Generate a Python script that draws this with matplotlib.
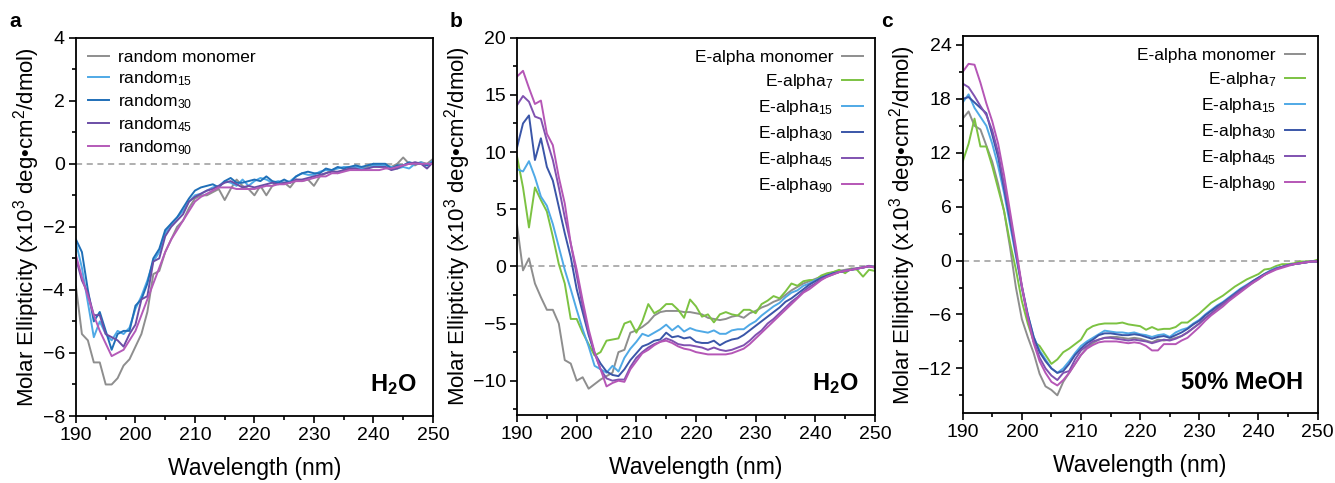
#!/usr/bin/env python
'''CD spectra of random and E-alpha series, three panels'''

import numpy as np
import matplotlib
matplotlib.use("Agg")
from matplotlib import pyplot as plt
from matplotlib.ticker import MultipleLocator

plt.rcParams['font.family'] = ['Liberation Sans', 'DejaVu Sans']
plt.rcParams['mathtext.fontset'] = 'custom'
plt.rcParams['mathtext.rm'] = 'Liberation Sans'
plt.rcParams['mathtext.bf'] = 'Liberation Sans:bold'
plt.rcParams['mathtext.default'] = 'regular'

wavelength = np.arange(190, 251)

# panel a, H2O (x10^3 deg cm2/dmol)
random_monomer = [-3.9, -5.4, -5.6, -6.3, -6.3, -7.0, -7.0, -6.8, -6.4, -6.2, -5.8, -5.4, -4.7, -3.5, -3.4,
                  -2.8, -2.4, -2.0, -1.8, -1.4, -1.1, -1.0, -1.0, -0.9, -0.8, -1.15, -0.8, -0.5, -0.7, -0.8,
                  -1.0, -0.7, -1.0, -0.7, -0.6, -0.6, -0.75, -0.5, -0.55, -0.5, -0.7, -0.4, -0.3, -0.2, -0.3,
                  -0.2, -0.2, -0.1, -0.15, -0.1, 0.0, -0.1, -0.05, -0.1, 0.0, 0.2, 0.0, -0.05, 0.05, 0.0, 0.15]
random_15 = [-2.5, -3.3, -4.4, -5.5, -5.0, -5.4, -5.6, -5.3, -5.4, -5.2, -4.6, -4.2, -3.7, -3.1, -2.8,
             -2.2, -1.9, -1.7, -1.5, -1.2, -1.0, -0.95, -0.85, -0.75, -0.7, -0.55, -0.6, -0.7, -0.5, -0.7,
             -0.55, -0.45, -0.5, -0.6, -0.55, -0.6, -0.55, -0.4, -0.3, -0.35, -0.35, -0.25, -0.2, -0.2, -0.15,
             -0.1, -0.1, -0.1, -0.15, -0.15, -0.05, -0.05, -0.05, -0.1, -0.15, -0.1, -0.15, 0.0, 0.05, -0.05, 0.1]
random_30 = [-2.4, -2.8, -4.0, -5.0, -4.7, -5.3, -5.9, -5.4, -5.3, -5.3, -4.5, -4.3, -3.8, -3.0, -2.7,
             -2.1, -1.9, -1.7, -1.4, -1.1, -0.85, -0.75, -0.7, -0.65, -0.75, -0.55, -0.45, -0.6, -0.6, -0.55,
             -0.5, -0.55, -0.4, -0.55, -0.6, -0.5, -0.6, -0.4, -0.3, -0.25, -0.3, -0.3, -0.15, -0.2, -0.1,
             -0.15, -0.1, -0.05, -0.1, -0.05, 0.0, 0.0, 0.0, -0.15, -0.05, -0.05, 0.05, 0.0, 0.0, -0.05, 0.05]
random_45 = [-3.0, -3.7, -4.1, -4.8, -4.8, -5.4, -5.5, -5.6, -5.8, -5.4, -5.1, -4.3, -4.2, -3.1, -3.0,
             -2.3, -2.0, -1.8, -1.6, -1.2, -1.05, -0.95, -0.85, -0.8, -0.7, -0.6, -0.55, -0.65, -0.75, -0.7,
             -0.75, -0.7, -0.65, -0.6, -0.65, -0.6, -0.6, -0.5, -0.5, -0.45, -0.4, -0.35, -0.3, -0.25, -0.25,
             -0.2, -0.15, -0.15, -0.2, -0.15, -0.1, -0.1, -0.1, -0.2, -0.15, -0.05, 0.0, 0.05, 0.0, -0.15, 0.05]
random_90 = [-2.9, -3.6, -4.2, -4.8, -5.3, -5.7, -6.1, -6.0, -5.9, -5.6, -5.3, -4.8, -4.3, -3.8, -3.3,
             -2.8, -2.4, -2.1, -1.8, -1.5, -1.2, -1.05, -0.95, -0.85, -0.75, -0.75, -0.75, -0.8, -0.8, -0.8,
             -0.8, -0.75, -0.7, -0.7, -0.65, -0.65, -0.6, -0.55, -0.55, -0.5, -0.45, -0.4, -0.4, -0.3, -0.3,
             -0.25, -0.2, -0.2, -0.2, -0.2, -0.2, -0.2, -0.15, -0.15, -0.1, -0.05, 0.0, 0.0, 0.0, 0.0, 0.0]

# panel b, H2O
b_monomer = [3.6, -0.35, 0.7, -1.5, -2.7, -3.8, -3.8, -5.0, -8.2, -8.5, -10.0, -9.7, -10.7, -10.3, -9.9,
             -9.6, -9.3, -7.5, -7.3, -5.8, -5.6, -5.3, -4.9, -4.3, -4.0, -3.9, -3.9, -3.9, -4.0, -4.0,
             -4.1, -4.2, -4.5, -4.6, -4.7, -4.6, -4.4, -4.3, -4.5, -4.1, -3.9, -3.6, -3.4, -3.1, -2.9,
             -2.5, -2.1, -1.8, -1.5, -1.3, -1.1, -0.9, -0.7, -0.5, -0.4, -0.3, -0.2, -0.15, -0.1, 0.0, 0.0]
b_alpha7 = [9.6, 6.9, 3.4, 6.9, 5.8, 4.8, 2.6, 0.2, -1.5, -4.6, -4.6, -5.8, -6.8, -7.8, -7.5,
            -6.5, -6.4, -6.3, -5.0, -4.8, -5.8, -4.8, -3.3, -4.1, -3.8, -3.3, -3.3, -3.8, -4.5, -2.9,
            -3.5, -4.4, -4.2, -4.9, -4.2, -4.0, -4.2, -4.3, -3.8, -3.8, -4.1, -3.3, -3.0, -2.6, -2.8,
            -2.2, -1.5, -1.7, -1.3, -1.2, -1.2, -0.8, -0.6, -0.5, -0.3, -0.6, -0.2, -0.3, -0.9, -0.3, -0.4]
b_alpha15 = [8.5, 8.3, 9.2, 7.8, 6.1, 5.3, 3.7, 1.7, -0.3, -2.0, -3.8, -5.5, -7.0, -8.7, -9.0,
             -9.3, -8.7, -9.2, -8.0, -7.2, -6.6, -5.9, -6.1, -5.8, -5.5, -5.1, -5.6, -5.2, -5.7, -5.4,
             -5.6, -5.7, -5.8, -5.6, -5.9, -5.9, -5.6, -5.5, -5.5, -5.1, -4.8, -4.3, -3.9, -3.5, -3.2,
             -2.7, -2.3, -2.1, -1.7, -1.5, -1.2, -1.0, -0.8, -0.6, -0.5, -0.4, -0.3, -0.2, -0.1, 0.0, -0.05]
b_alpha30 = [10.4, 12.5, 13.2, 9.3, 11.2, 8.7, 7.5, 5.2, 2.9, 0.8, -2.0, -4.0, -6.0, -7.6, -8.5,
             -9.2, -9.5, -9.6, -9.0, -8.2, -7.6, -7.0, -6.8, -6.5, -6.4, -5.8, -6.2, -6.1, -6.3, -6.2,
             -6.6, -6.7, -6.7, -6.5, -6.9, -6.6, -6.4, -6.3, -6.0, -5.6, -5.2, -4.8, -4.4, -4.0, -3.6,
             -3.1, -2.8, -2.4, -2.0, -1.6, -1.3, -1.0, -0.8, -0.6, -0.5, -0.4, -0.3, -0.2, -0.1, 0.0, -0.1]
b_alpha45 = [14.1, 14.9, 14.4, 13.1, 12.9, 11.0, 9.3, 6.9, 4.3, 2.0, -0.8, -3.5, -5.8, -7.6, -9.0,
             -9.8, -10.0, -9.9, -9.9, -8.8, -8.0, -7.5, -7.1, -6.8, -6.6, -6.3, -6.5, -6.8, -6.9, -6.9,
             -7.0, -7.1, -7.3, -7.1, -7.3, -7.4, -7.3, -7.1, -6.9, -6.5, -6.0, -5.6, -5.0, -4.6, -4.1,
             -3.6, -3.1, -2.7, -2.2, -1.8, -1.5, -1.1, -0.9, -0.7, -0.5, -0.4, -0.3, -0.2, -0.1, 0.05, -0.1]
b_alpha90 = [16.6, 17.1, 15.6, 14.2, 14.5, 11.6, 10.6, 7.8, 5.5, 2.0, -0.3, -3.0, -5.5, -7.5, -9.0,
             -10.5, -10.2, -10.0, -10.1, -9.0, -8.3, -7.6, -7.3, -6.9, -6.6, -6.5, -6.7, -7.0, -7.2, -7.3,
             -7.5, -7.6, -7.7, -7.7, -7.7, -7.7, -7.6, -7.4, -7.2, -6.8, -6.3, -5.8, -5.3, -4.8, -4.3,
             -3.8, -3.3, -2.8, -2.3, -2.0, -1.6, -1.2, -0.9, -0.7, -0.5, -0.4, -0.3, -0.2, -0.1, 0.0, -0.1]

# panel c, 50% MeOH
c_monomer = [15.8, 16.6, 15.0, 14.6, 12.8, 11.0, 8.5, 5.5, 1.5, -3.0, -6.5, -8.5, -10.3, -12.6, -14.0,
             -14.4, -15.0, -13.5, -12.5, -11.5, -10.5, -9.7, -9.2, -8.8, -8.6, -8.5, -8.5, -8.6, -8.7, -8.6,
             -8.7, -8.9, -9.1, -8.8, -8.9, -8.8, -8.6, -8.4, -8.0, -7.5, -7.0, -6.4, -5.9, -5.4, -4.9,
             -4.4, -3.9, -3.4, -2.9, -2.5, -2.0, -1.6, -1.2, -0.9, -0.7, -0.5, -0.4, -0.3, -0.2, -0.1, -0.1]
c_alpha7 = [11.0, 13.0, 15.8, 12.7, 12.7, 10.5, 8.0, 5.5, 2.0, -1.0, -4.5, -7.0, -9.0, -9.5, -10.5,
            -11.5, -11.0, -10.2, -9.8, -9.3, -8.8, -7.7, -7.3, -7.1, -7.0, -7.0, -7.0, -6.9, -7.1, -7.2,
            -7.3, -7.7, -7.4, -7.7, -7.6, -7.6, -7.4, -6.9, -6.9, -6.4, -5.9, -5.3, -4.7, -4.3, -3.9,
            -3.4, -2.9, -2.5, -2.1, -1.8, -1.5, -1.0, -0.9, -0.6, -0.4, -0.4, -0.3, -0.1, -0.1, -0.1, 0.1]
c_alpha15 = [17.6, 18.5, 17.0, 16.0, 15.0, 13.0, 10.5, 7.5, 4.0, 0.5, -3.0, -6.0, -8.5, -10.0, -11.0,
             -12.0, -12.5, -12.0, -11.2, -10.3, -9.5, -9.0, -8.6, -8.2, -7.8, -7.9, -8.0, -8.0, -8.1, -8.0,
             -8.2, -8.3, -8.5, -8.3, -8.2, -8.5, -8.0, -7.7, -7.5, -7.0, -6.6, -6.0, -5.5, -5.0, -4.6,
             -4.1, -3.6, -3.1, -2.7, -2.3, -1.9, -1.5, -1.1, -0.8, -0.7, -0.5, -0.4, -0.3, -0.2, -0.1, -0.1]
c_alpha30 = [18.0, 18.2, 17.6, 17.0, 16.4, 14.0, 11.5, 8.0, 4.5, 0.8, -2.8, -6.0, -8.5, -10.2, -11.2,
             -12.0, -12.5, -12.3, -11.5, -10.5, -9.8, -9.2, -8.8, -8.3, -8.1, -8.1, -8.2, -8.3, -8.3, -8.2,
             -8.3, -8.5, -8.7, -8.5, -8.4, -8.6, -8.3, -8.0, -7.6, -7.1, -6.7, -6.1, -5.6, -5.1, -4.7,
             -4.2, -3.7, -3.2, -2.8, -2.3, -1.9, -1.5, -1.2, -0.9, -0.7, -0.5, -0.4, -0.3, -0.2, -0.1, -0.1]
c_alpha45 = [19.7, 19.3, 18.3, 17.2, 16.2, 14.5, 12.0, 8.5, 5.0, 1.0, -3.0, -6.3, -9.0, -10.8, -12.0,
             -12.8, -13.3, -12.5, -12.3, -11.0, -10.0, -9.5, -9.0, -8.8, -8.6, -8.6, -8.7, -8.8, -8.9, -8.8,
             -8.9, -9.0, -9.2, -9.0, -8.8, -8.9, -8.7, -8.4, -8.0, -7.5, -7.0, -6.4, -5.9, -5.3, -4.8,
             -4.3, -3.8, -3.3, -2.8, -2.4, -2.0, -1.6, -1.2, -0.9, -0.7, -0.5, -0.4, -0.3, -0.2, -0.1, -0.1]
c_alpha90 = [21.0, 21.9, 21.8, 19.8, 17.5, 15.5, 13.0, 9.5, 5.5, 1.5, -2.8, -6.3, -9.2, -11.2, -12.5,
             -13.5, -13.9, -13.3, -12.5, -11.5, -10.5, -9.8, -9.4, -9.1, -9.0, -9.0, -9.0, -9.1, -9.2, -9.1,
             -9.2, -9.5, -10.0, -10.0, -9.3, -9.3, -9.3, -8.9, -8.6, -8.0, -7.4, -6.7, -6.1, -5.6, -5.1,
             -4.5, -4.0, -3.5, -3.0, -2.5, -2.1, -1.6, -1.3, -1.0, -0.8, -0.6, -0.4, -0.3, -0.2, -0.1, -0.1]

labels_a = ["random monomer", "random$_{15}$", "random$_{30}$", "random$_{45}$", "random$_{90}$"]
labels_bc = ["E-alpha monomer", "E-alpha$_{7}$", "E-alpha$_{15}$", "E-alpha$_{30}$",
             "E-alpha$_{45}$", "E-alpha$_{90}$"]

colors_a = ["#8e8e8e", "#4fa9e6", "#1f6fb8", "#6b4ea6", "#b45ab8"]
colors_bc = ["#8e8e8e", "#7cc242", "#4fa9e6", "#3a56a8", "#8052b0", "#b556b6"]

ylabel = "Molar Ellipticity (x10$^3$ deg\u2022cm$^2$/dmol)"

fig = plt.figure(figsize=(13.35, 4.83), dpi=100)
ax_a = fig.add_axes([0.0569, 0.1387, 0.2674, 0.7833])
ax_b = fig.add_axes([0.3873, 0.1408, 0.2681, 0.7812])
ax_c = fig.add_axes([0.7211, 0.1443, 0.2659, 0.7812])


def style_axis(ax, ylim, ymajor, yminor):
    ax.set_xlim(190, 250)
    ax.set_ylim(*ylim)
    ax.axhline(0, color="#9a9a9a", linestyle=(0, (4, 3)), linewidth=1.1, zorder=0)
    ax.xaxis.set_major_locator(MultipleLocator(10))
    ax.xaxis.set_minor_locator(MultipleLocator(5))
    ax.yaxis.set_major_locator(MultipleLocator(ymajor))
    ax.yaxis.set_minor_locator(MultipleLocator(yminor))
    ax.tick_params(which="major", direction="out", length=5, width=1.2, labelsize=14, pad=3)
    ax.tick_params(which="minor", direction="out", length=3, width=1.2)
    for sp in ax.spines.values():
        sp.set_linewidth(1.3)
    ax.set_xlabel("Wavelength (nm)", fontsize=16.5, labelpad=9)
    ax.set_ylabel(ylabel, fontsize=16, labelpad=0)


legend_kw = dict(frameon=False, fontsize=12.5, handlelength=1.2, handletextpad=0.5,
                 borderaxespad=0.3)

# panel a
for y, lab, col in zip([random_monomer, random_15, random_30, random_45, random_90], labels_a, colors_a):
    ax_a.plot(wavelength, y, color=col, linewidth=1.4, label=lab)
style_axis(ax_a, (-8, 4), 2, 1)
ax_a.legend(loc="upper left", labelspacing=0.25, **legend_kw)
ax_a.text(0.955, 0.05, r"$\mathbf{H_2O}$", transform=ax_a.transAxes, ha="right", va="bottom", fontsize=17)

# panel b
for y, lab, col in zip([b_monomer, b_alpha7, b_alpha15, b_alpha30, b_alpha45, b_alpha90], labels_bc, colors_bc):
    ax_b.plot(wavelength, y, color=col, linewidth=1.4, label=lab)
style_axis(ax_b, (-13, 20), 5, 2.5)
ax_b.legend(loc="upper right", labelspacing=0.4, markerfirst=False, **legend_kw)
ax_b.text(0.955, 0.05, r"$\mathbf{H_2O}$", transform=ax_b.transAxes, ha="right", va="bottom", fontsize=17)

# panel c
for y, lab, col in zip([c_monomer, c_alpha7, c_alpha15, c_alpha30, c_alpha45, c_alpha90], labels_bc, colors_bc):
    ax_c.plot(wavelength, y, color=col, linewidth=1.4, label=lab)
style_axis(ax_c, (-17, 25), 6, 3)
ax_c.legend(loc="upper right", labelspacing=0.4, markerfirst=False, **legend_kw)
ax_c.text(0.96, 0.05, "50% MeOH", transform=ax_c.transAxes, ha="right", va="bottom",
          fontsize=17, fontweight="bold")

for letter, xpos in [("a", 0.007), ("b", 0.337), ("c", 0.66)]:
    fig.text(xpos, 0.975, letter, fontsize=15, fontweight="bold", va="top", ha="left")

fig.savefig("out.png", dpi=100)
